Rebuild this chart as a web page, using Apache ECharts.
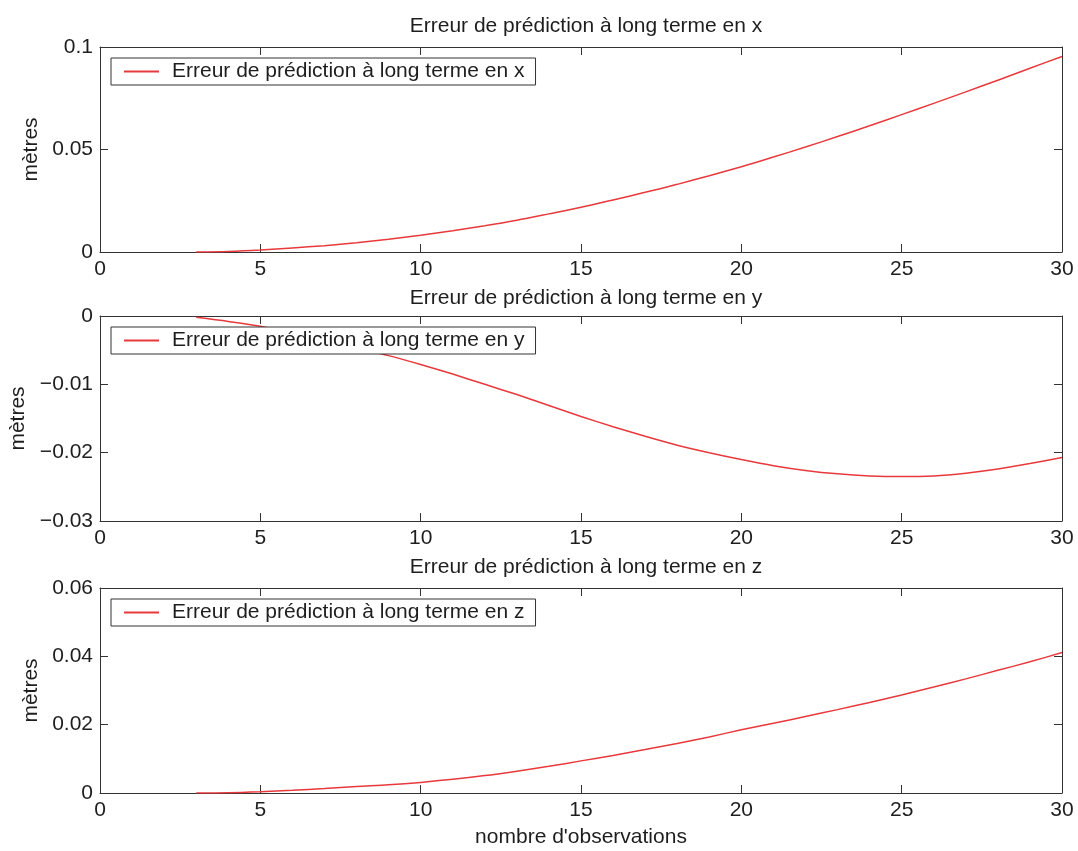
<!DOCTYPE html>
<html>
<head>
<meta charset="utf-8">
<script src="https://cdn.jsdelivr.net/npm/echarts@6/dist/echarts.min.js"></script>
<style>
  html, body { margin: 0; padding: 0; background: #fff; }
  #chart { width: 1078px; height: 851px; }
</style>
</head>
<body>
<div id="chart"></div>
<script>
// number of observations (x axis of all three panels)
const nbObs = [3, 4, 5, 6, 7, 8, 9, 10, 11, 12, 13, 14, 15, 16, 17, 18, 19, 20, 21, 22, 23, 24, 25, 26, 27, 28, 29, 30];

// long term prediction error, metres
const errX = [0, 0.0003, 0.0010, 0.0020, 0.0031, 0.0045, 0.0062, 0.0082, 0.0104, 0.0128, 0.0155, 0.0186, 0.0218, 0.0254, 0.0291, 0.0330, 0.0372, 0.0416, 0.0463, 0.0512, 0.0563, 0.0616, 0.0670, 0.0725, 0.0781, 0.0838, 0.0896, 0.0954];
const errY = [-0.0002, -0.0008, -0.0015, -0.0025, -0.0036, -0.0047, -0.0058, -0.0071, -0.0085, -0.0100, -0.0115, -0.0131, -0.0147, -0.0162, -0.0176, -0.0189, -0.0200, -0.0210, -0.0219, -0.0226, -0.0231, -0.0234, -0.0235, -0.0234, -0.0230, -0.0224, -0.0216, -0.0207];
const errZ = [0, 0.0001, 0.0004, 0.0008, 0.0013, 0.0019, 0.0024, 0.0031, 0.0040, 0.0051, 0.0064, 0.0078, 0.0094, 0.0110, 0.0127, 0.0145, 0.0164, 0.0185, 0.0204, 0.0224, 0.0244, 0.0265, 0.0287, 0.0310, 0.0334, 0.0359, 0.0384, 0.0411];

const names = [
  'Erreur de prédiction à long terme en x',
  'Erreur de prédiction à long terme en y',
  'Erreur de prédiction à long terme en z'
];
const yRanges = [[0, 0.1, 0.05], [-0.03, 0, 0.01], [0, 0.06, 0.02]];
const gridTops = [47, 316, 588];
const titleTops = [11, 283, 552];
const nameGaps = [56, 69, 56];

const font = 'Liberation Sans, Arial, Helvetica, sans-serif';
const fs = 21;
const ink = '#1e1e1e';
const axisColor = '#333';
const red = '#e8393c';

const chart = echarts.init(document.getElementById('chart'));

const grid = [], xAxis = [], yAxis = [], series = [], legend = [], title = [];
const fmt = v => String(v).replace('-', '\u2212');

[errX, errY, errZ].forEach((vals, i) => {
  grid.push({ left: 100, right: 16, top: gridTops[i], height: 205, outerBoundsMode: 'none' });

  const tick = { show: true, inside: true, length: 8, lineStyle: { color: axisColor } };
  const line = { show: true, onZero: false, lineStyle: { color: axisColor, width: 1 } };

  xAxis.push({
    gridIndex: i, type: 'value', min: 0, max: 30, interval: 5, position: 'bottom',
    axisLine: line, axisTick: tick, splitLine: { show: false },
    axisLabel: { color: ink, fontSize: fs, fontFamily: font, margin: 7 },
    name: i === 2 ? "nombre d'observations" : '',
    nameLocation: 'middle', nameGap: 34,
    nameTextStyle: { color: ink, fontSize: fs, fontFamily: font }
  });
  xAxis.push({
    gridIndex: i, type: 'value', min: 0, max: 30, interval: 5, position: 'top',
    axisLine: line, axisTick: tick, axisLabel: { show: false }, splitLine: { show: false }
  });

  const [mn, mx, step] = yRanges[i];
  yAxis.push({
    gridIndex: i, type: 'value', min: mn, max: mx, interval: step, position: 'left',
    axisLine: line, axisTick: tick, splitLine: { show: false },
    axisLabel: { color: ink, fontSize: fs, fontFamily: font, margin: 7, formatter: fmt },
    name: 'mètres', nameLocation: 'middle', nameGap: nameGaps[i],
    nameTextStyle: { color: ink, fontSize: fs, fontFamily: font }
  });
  yAxis.push({
    gridIndex: i, type: 'value', min: mn, max: mx, interval: step, position: 'right',
    axisLine: line, axisTick: tick, axisLabel: { show: false }, splitLine: { show: false }
  });

  series.push({
    name: names[i], type: 'line', xAxisIndex: i * 2, yAxisIndex: i * 2,
    data: nbObs.map((n, k) => [n, vals[k]]),
    showSymbol: false, symbol: 'none', smooth: 0.3,
    lineStyle: { color: red, width: 1.5 }, itemStyle: { color: red },
    animation: false
  });

  legend.push({
    data: [names[i]], left: 111, top: gridTops[i] + 11, orient: 'vertical',
    padding: [3, 11, 3, 13], icon: 'rect', itemWidth: 35, itemHeight: 2,
    borderColor: axisColor, borderWidth: 1, backgroundColor: '#fff',
    textStyle: { color: ink, fontSize: fs, fontFamily: font, padding: [0, 0, 0, 8] },
    selectedMode: false
  });

  title.push({
    text: names[i], left: 581, textAlign: 'center', top: titleTops[i],
    textStyle: { color: ink, fontSize: fs, fontWeight: 'normal', fontFamily: font }
  });
});

chart.setOption({
  backgroundColor: '#fff',
  animation: false,
  title, legend, grid, xAxis, yAxis, series
});
</script>
</body>
</html>
